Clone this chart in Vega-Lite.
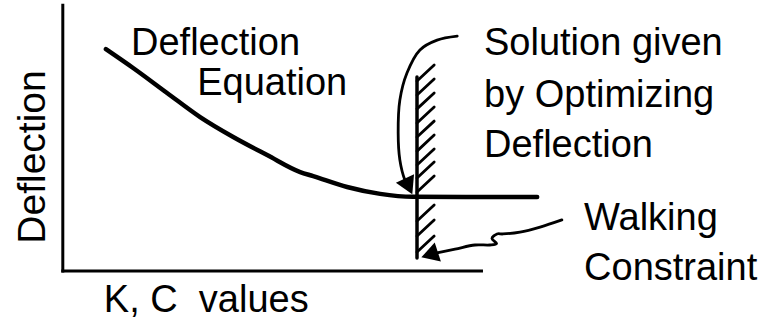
{
  "$schema": "https://vega.github.io/schema/vega-lite/v6.json",
  "width": 762,
  "height": 324,
  "padding": 0,
  "autosize": {"type": "none"},
  "background": "white",
  "config": {"view": {"stroke": null}},
  "datasets": {
    "curve": [
      {"x": 10.3, "y": 83.5}, {"x": 16.8, "y": 76.4}, {"x": 24.9, "y": 67.0},
      {"x": 32.8, "y": 57.9}, {"x": 40.7, "y": 50.4}, {"x": 48.8, "y": 43.6},
      {"x": 56.7, "y": 37.2}, {"x": 59.8, "y": 35.7}, {"x": 67.9, "y": 31.6},
      {"x": 75.8, "y": 29.0}, {"x": 83.6, "y": 27.9}, {"x": 113.3, "y": 27.8}
    ],
    "rules": [
      {"kind": "axis", "x": 0, "y": 0, "x2": 0, "y2": 100},
      {"kind": "axis", "x": 0, "y": 0, "x2": 100, "y2": 0},
      {"kind": "wall", "x": 84.6, "y": 4.85, "x2": 84.6, "y2": 73.0}
    ],
    "hatch": [
      {"x": 84.6, "y": 71.5, "x2": 88.7, "y2": 77.5},
      {"x": 84.6, "y": 66.2, "x2": 88.7, "y2": 72.25},
      {"x": 84.6, "y": 61.0, "x2": 88.7, "y2": 67.0},
      {"x": 84.6, "y": 55.7, "x2": 88.7, "y2": 61.7},
      {"x": 84.6, "y": 50.4, "x2": 88.7, "y2": 56.4},
      {"x": 84.6, "y": 45.1, "x2": 88.7, "y2": 51.2},
      {"x": 84.6, "y": 39.9, "x2": 88.7, "y2": 45.9},
      {"x": 84.6, "y": 35.0, "x2": 88.7, "y2": 41.0},
      {"x": 84.6, "y": 29.7, "x2": 88.7, "y2": 35.7},
      {"x": 84.6, "y": 18.8, "x2": 88.7, "y2": 24.8},
      {"x": 84.6, "y": 13.1, "x2": 88.7, "y2": 19.2},
      {"x": 84.6, "y": 7.1, "x2": 88.7, "y2": 13.1}
    ],
    "arrows": [
      {"a": "solution", "i": 0, "x": 94.2, "y": 88.4},
      {"a": "solution", "i": 1, "x": 89.4, "y": 86.9},
      {"a": "solution", "i": 2, "x": 85.3, "y": 83.2},
      {"a": "solution", "i": 3, "x": 82.2, "y": 74.5},
      {"a": "solution", "i": 4, "x": 80.5, "y": 64.3},
      {"a": "solution", "i": 5, "x": 80.1, "y": 51.9},
      {"a": "solution", "i": 6, "x": 80.5, "y": 41.8},
      {"a": "solution", "i": 7, "x": 81.7, "y": 34.2},
      {"a": "solution", "i": 8, "x": 82.7, "y": 31.2},
      {"a": "walking", "i": 0, "x": 119.2, "y": 19.2},
      {"a": "walking", "i": 1, "x": 114.0, "y": 16.5},
      {"a": "walking", "i": 2, "x": 109.2, "y": 14.6},
      {"a": "walking", "i": 3, "x": 105.1, "y": 13.9},
      {"a": "walking", "i": 4, "x": 103.7, "y": 13.9},
      {"a": "walking", "i": 5, "x": 102.5, "y": 12.2},
      {"a": "walking", "i": 6, "x": 103.6, "y": 10.3},
      {"a": "walking", "i": 7, "x": 102.0, "y": 9.75},
      {"a": "walking", "i": 8, "x": 98.45, "y": 9.75},
      {"a": "walking", "i": 9, "x": 93.7, "y": 8.2},
      {"a": "walking", "i": 10, "x": 88.2, "y": 6.4}
    ],
    "heads": [
      {"a": "solution", "x": 82.6, "y": 31.8, "angle": 335},
      {"a": "walking", "x": 87.6, "y": 6.1, "angle": 72}
    ],
    "labels": [
      {"t": "Deflection", "x": 16.3, "y": 81.3},
      {"t": "Equation", "x": 32.1, "y": 66.2},
      {"t": "Solution given", "x": 100.6, "y": 81.3},
      {"t": "by Optimizing", "x": 100.6, "y": 61.7},
      {"t": "Deflection", "x": 100.6, "y": 42.9},
      {"t": "Walking", "x": 124.5, "y": 15.4},
      {"t": "Constraint", "x": 124.5, "y": -3.4},
      {"t": "K, C\u00a0 values", "x": 9.8, "y": -15.5}
    ],
    "ylabel": [
      {"t": "Deflection", "x": -4.25, "y": 42.9}
    ]
  },
  "encoding": {
    "x": {"type": "quantitative", "scale": {"domain": [-15, 167], "nice": false, "zero": false}, "axis": null},
    "y": {"type": "quantitative", "scale": {"domain": [-20, 102], "nice": false, "zero": false}, "axis": null}
  },
  "layer": [
    {
      "data": {"name": "rules"},
      "transform": [{"filter": "datum.kind === 'axis'"}],
      "mark": {"type": "rule", "color": "black", "strokeWidth": 3, "strokeCap": "square"},
      "encoding": {"x": {"field": "x", "type": "quantitative"}, "y": {"field": "y", "type": "quantitative"}, "x2": {"field": "x2"}, "y2": {"field": "y2"}}
    },
    {
      "data": {"name": "rules"},
      "transform": [{"filter": "datum.kind === 'wall'"}],
      "mark": {"type": "rule", "color": "black", "strokeWidth": 3.5, "strokeCap": "round"},
      "encoding": {"x": {"field": "x", "type": "quantitative"}, "y": {"field": "y", "type": "quantitative"}, "x2": {"field": "x2"}, "y2": {"field": "y2"}}
    },
    {
      "data": {"name": "hatch"},
      "mark": {"type": "rule", "color": "black", "strokeWidth": 2.8, "strokeCap": "round"},
      "encoding": {"x": {"field": "x", "type": "quantitative"}, "y": {"field": "y", "type": "quantitative"}, "x2": {"field": "x2"}, "y2": {"field": "y2"}}
    },
    {
      "data": {"name": "curve"},
      "mark": {"type": "line", "color": "black", "strokeWidth": 4.5, "strokeCap": "round", "interpolate": "monotone"},
      "encoding": {"x": {"field": "x", "type": "quantitative"}, "y": {"field": "y", "type": "quantitative"}}
    },
    {
      "data": {"name": "arrows"},
      "mark": {"type": "line", "color": "black", "strokeWidth": 2.8, "strokeCap": "round", "strokeJoin": "round", "interpolate": "catmull-rom"},
      "encoding": {
        "x": {"field": "x", "type": "quantitative"},
        "y": {"field": "y", "type": "quantitative"},
        "detail": {"field": "a"},
        "order": {"field": "i", "type": "quantitative"}
      }
    },
    {
      "data": {"name": "heads"},
      "mark": {"type": "point", "shape": "triangle-down", "filled": true, "color": "black", "fill": "black", "fillOpacity": 1, "opacity": 1, "size": 400},
      "encoding": {
        "x": {"field": "x", "type": "quantitative"},
        "y": {"field": "y", "type": "quantitative"},
        "angle": {"field": "angle", "type": "quantitative", "scale": null}
      }
    },
    {
      "data": {"name": "labels"},
      "mark": {"type": "text", "align": "left", "baseline": "alphabetic", "font": "Liberation Sans", "fontSize": 38, "color": "black"},
      "encoding": {"x": {"field": "x", "type": "quantitative"}, "y": {"field": "y", "type": "quantitative"}, "text": {"field": "t"}}
    },
    {
      "data": {"name": "ylabel"},
      "mark": {"type": "text", "align": "center", "baseline": "alphabetic", "angle": 270, "font": "Liberation Sans", "fontSize": 39, "color": "black"},
      "encoding": {"x": {"field": "x", "type": "quantitative"}, "y": {"field": "y", "type": "quantitative"}, "text": {"field": "t"}}
    }
  ]
}
